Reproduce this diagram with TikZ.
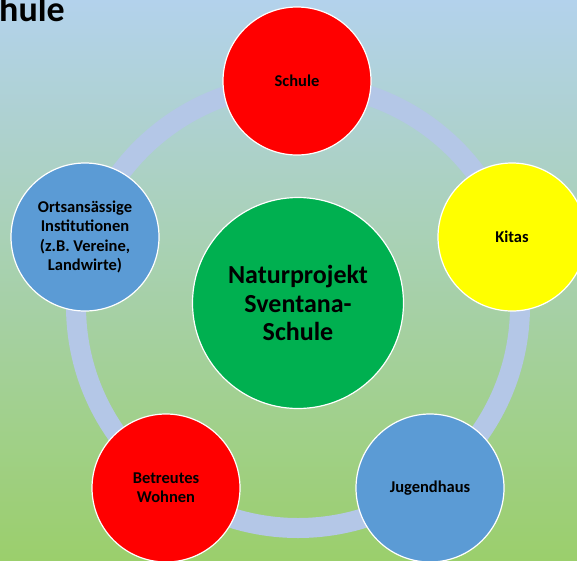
\documentclass[tikz,border=0pt]{standalone}
\usepackage{fontspec}
\setmainfont{Carlito}
\definecolor{bgtop}{HTML}{B3D2EC}
\definecolor{bgmid}{HTML}{A9D4BC}
\definecolor{bgbot}{HTML}{9BCF6C}
\definecolor{ringc}{HTML}{B4C7E7}
\definecolor{cred}{HTML}{FF0000}
\definecolor{cyellow}{HTML}{FFFF00}
\definecolor{cblue}{HTML}{5B9BD5}
\definecolor{cgreen}{HTML}{00B050}
\tikzset{
  sat/.style={circle, draw=white, line width=1.2pt, inner sep=0pt,
    minimum size=148pt, align=center,
    font=\bfseries\fontsize{16.5}{19.3}\selectfont},
  hub/.style={circle, draw=white, line width=1.2pt, inner sep=0pt,
    minimum size=211pt, align=center, fill=cgreen,
    font=\bfseries\fontsize{26}{28.4}\selectfont}
}
\begin{document}
\begin{tikzpicture}[x=1pt,y=-1pt]
\useasboundingbox (0,0) rectangle (577,560);
\shade[top color=bgtop, middle color=bgmid, bottom color=bgbot] (0,0) rectangle (577,560);
\draw[ringc, line width=20pt] (298,306) circle[radius=222];
\node[anchor=base east, inner sep=0pt, font=\bfseries\fontsize{36}{40}\selectfont] (title) at (65,21) {Schule};
\node[hub] (center) at (298,303) {Naturprojekt\\Sventana-\\Schule};
\node[sat, fill=cred] (schule) at (297,81) {Schule};
\node[sat, fill=cyellow] (kitas) at (512,237) {Kitas};
\node[sat, fill=cblue] (jugend) at (430,488) {Jugendhaus};
\node[sat, fill=cred] (wohnen) at (166,488) {Betreutes\\Wohnen};
\node[sat, fill=cblue] (orts) at (85,237) {Ortsansässige\\Institutionen\\(z.B. Vereine,\\Landwirte)};
\end{tikzpicture}
\end{document}
